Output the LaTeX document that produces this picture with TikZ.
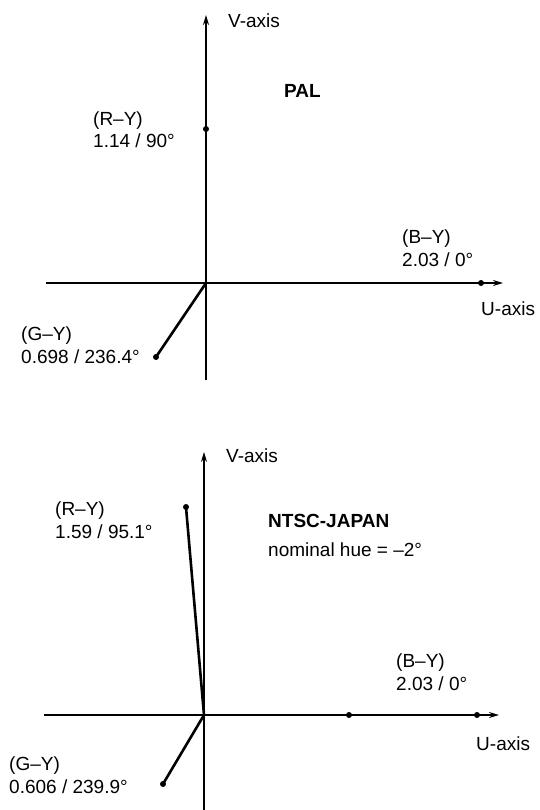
\documentclass[tikz,border=0pt]{standalone}
\usepackage{fontspec}
\setmainfont{Liberation Sans}
\usetikzlibrary{arrows.meta}
\begin{document}
\begin{tikzpicture}[x=1pt,y=-1pt,
  thinline/.style={line width=1.1pt, black},
  axis/.style={line width=1.1pt, black, -{Stealth[length=10pt,width=6pt]}},
  vec/.style={line width=2.6pt, line cap=round},
  dotp/.style={circle, fill, inner sep=0pt, minimum size=6pt},
  lbl/.style={anchor=base west, inner sep=0pt, font=\fontsize{19}{22}\selectfont},
  blbl/.style={lbl, font=\fontsize{19}{22}\selectfont\bfseries}]
\useasboundingbox (0,0) rectangle (539,810);

% ---------- PAL ----------
\coordinate (O1) at (206,283);
\coordinate (V1t) at (206,15);
\coordinate (V1b) at (206,380);
\coordinate (U1l) at (46,283);
\coordinate (U1r) at (503,283);
\node[dotp] (R1) at (206,129) {};
\node[dotp] (B1) at (481,283) {};
\node[dotp] (G1) at (156,357) {};
\draw[thinline] (V1b) -- (O1);
\draw[axis, line width=1.6pt] (O1) -- (V1t);
\draw[thinline] (U1l) -- (O1);
\draw[axis, line width=1.6pt] (O1) -- (U1r);
\draw[vec] (O1) -- (R1.center);
\draw[vec] (O1) -- (B1.center);
\draw[vec] (O1) -- (G1.center);

\node[lbl] (V1lab) at (228,28) {V-axis};
\node[lbl] (U1lab) at (481,315) {U-axis};
\node[blbl] (PAL) at (284,98) {PAL};
\node[lbl] (R1a) at (93,126) {(R–Y)};
\node[lbl] (R1b) at (93,148) {1.14 / 90°};
\node[lbl] (B1a) at (402,243) {(B–Y)};
\node[lbl] (B1b) at (402,266) {2.03 / 0°};
\node[lbl] (G1a) at (21,340) {(G–Y)};
\node[lbl] (G1b) at (21,363) {0.698 / 236.4°};

% ---------- NTSC-JAPAN ----------
\coordinate (O2) at (204,715);
\coordinate (V2t) at (204,452);
\coordinate (V2b) at (204,810);
\coordinate (U2l) at (44,715);
\coordinate (U2r) at (499,715);
\node[dotp] (R2) at (186,507) {};
\node[dotp] (B2) at (477,715) {};
\node[dotp] (M2) at (349,715) {};
\node[dotp] (G2) at (163,784) {};
\draw[thinline] (V2b) -- (O2);
\draw[axis] (O2) -- (V2t);
\draw[thinline] (U2l) -- (O2);
\draw[axis, line width=1.6pt] (O2) -- (U2r);
\draw[vec] (O2) -- (R2.center);
\draw[vec] (O2) -- (B2.center);
\draw[vec] (O2) -- (G2.center);

\node[lbl] (V2lab) at (226,462) {V-axis};
\node[lbl] (U2lab) at (476,750) {U-axis};
\node[blbl] (NTSC) at (268,527) {NTSC-JAPAN};
\node[lbl] (hue) at (268,556) {nominal hue = –2°};
\node[lbl] (R2a) at (55,515) {(R–Y)};
\node[lbl] (R2b) at (55,538) {1.59 / 95.1°};
\node[lbl] (B2a) at (396,667) {(B–Y)};
\node[lbl] (B2b) at (396,690) {2.03 / 0°};
\node[lbl] (G2a) at (9,770) {(G–Y)};
\node[lbl] (G2b) at (9,793) {0.606 / 239.9°};
\end{tikzpicture}
\end{document}
